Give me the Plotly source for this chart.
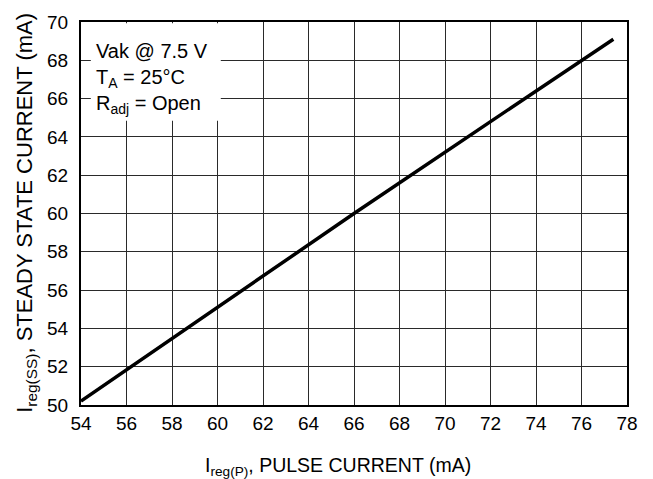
import plotly.graph_objects as go

pulse_current = [54.0, 60.0, 66.0, 72.0, 77.4]
steady_current = [50.2, 55.1, 60.0, 64.8, 69.1]

x_ticks = list(range(54, 79, 2))
y_ticks = list(range(50, 71, 2))

font_family = "Liberation Sans, Arial, Helvetica, sans-serif"

fig = go.Figure()
fig.add_trace(go.Scatter(
    x=pulse_current, y=steady_current, mode="lines",
    line=dict(color="black", width=3.5), showlegend=False, hoverinfo="skip"))

axis_common = dict(
    showgrid=True, gridcolor="#2a2a2a", gridwidth=1,
    showline=True, linecolor="black", linewidth=2, mirror=True, automargin=False,
    zeroline=False, tickfont=dict(size=19, color="black", family=font_family),
)

fig.update_xaxes(range=[54, 78], tickvals=x_ticks, ticks="", **axis_common)
fig.update_yaxes(range=[50, 70], tickvals=y_ticks, ticks="outside", ticklen=7,
                 tickcolor="rgba(0,0,0,0)", **axis_common)

# x-axis title
fig.add_annotation(
    xref="paper", yref="paper", x=0.4707, y=-0.1606, xanchor="center", yanchor="middle",
    showarrow=False, text="I<sub>reg(P)</sub>, PULSE CURRENT (mA)",
    font=dict(size=19.5, color="black", family=font_family))
# y-axis title
fig.add_annotation(
    xref="paper", yref="paper", x=-0.1, y=0.503, xanchor="center", yanchor="middle",
    showarrow=False, textangle=-90,
    text="I<sub>reg(SS)</sub>, STEADY STATE CURRENT (mA)",
    font=dict(size=22, color="black", family=font_family))

fig.add_shape(type="rect", xref="paper", yref="paper", x0=0.018, x1=0.256, y0=0.742, y1=0.997,
              fillcolor="white", line=dict(width=0), layer="above")

fig.add_annotation(
    xref="paper", yref="paper", x=0.024, y=0.959, xanchor="left", yanchor="top",
    align="left", showarrow=False,
    text="Vak @ 7.5 V<br>T<sub>A</sub> = 25°C<br>R<sub>adj</sub> = Open",
    font=dict(size=20, color="black", family=font_family))

fig.update_layout(
    width=645, height=471,
    margin=dict(l=73, r=26, t=14, b=74, autoexpand=False),
    paper_bgcolor="white", plot_bgcolor="white",
    font=dict(family=font_family, color="black"),
)

fig.write_html("out.html")
